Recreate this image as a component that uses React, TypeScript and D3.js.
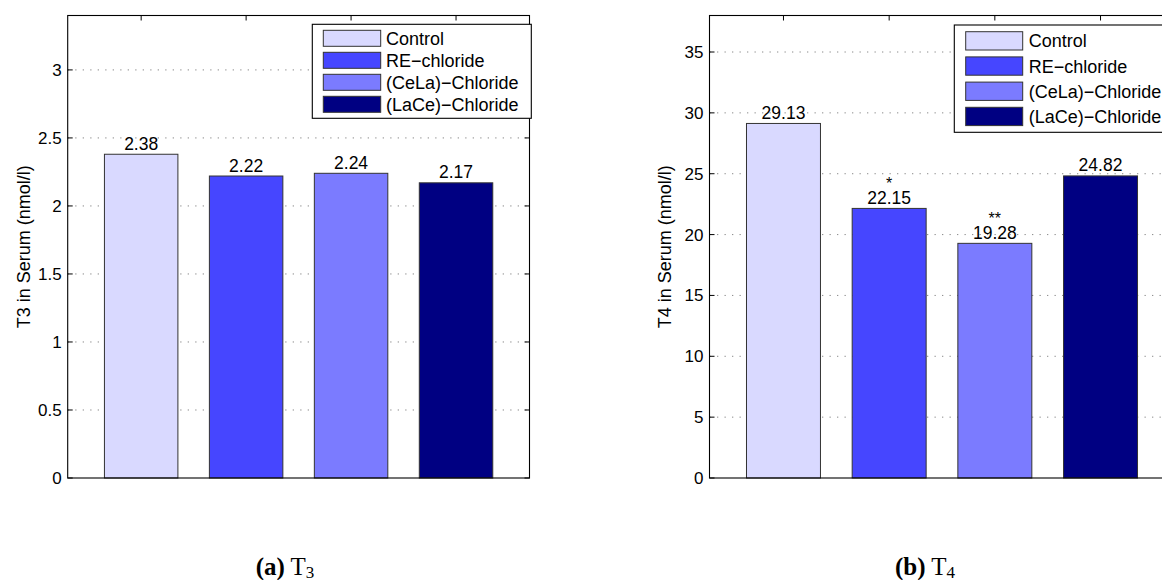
import React from "react";
import * as d3 from "d3";

const categories = ["Control", "RE\u2212chloride", "(CeLa)\u2212Chloride", "(LaCe)\u2212Chloride"];
const barColors = ["#d9d9ff", "#4646ff", "#7b7bff", "#000082"];
const t3Values = [2.38, 2.22, 2.24, 2.17];
const t4Values = [29.13, 22.15, 19.28, 24.82];
const t3Marks = ["", "", "", ""];
const t4Marks = ["", "*", "**", ""];
const t3Ticks = [0, 0.5, 1, 1.5, 2, 2.5, 3];
const t4Ticks = [0, 5, 10, 15, 20, 25, 30, 35];
const t3Label = "T3 in Serum (nmol/l)";
const t4Label = "T4 in Serum (nmol/l)";

const SANS = "'Liberation Sans', Arial, Helvetica, sans-serif";
const SERIF = "'Liberation Serif', 'Times New Roman', serif";

type LegendSpec = {
  x: number; y: number; w: number; h: number;
  sx: number; sw: number; sh: number; row0: number; rowStep: number; tx: number;
};

type PanelProps = {
  left: number; right: number; top: number; bottom: number;
  ymax: number; values: number[]; marks: string[]; ticks: number[];
  ylabel: string; ylabelX: number; legend: LegendSpec;
};

function Panel(p: PanelProps) {
  const x = d3.scaleLinear().domain([0.3, 4.7]).range([p.left, p.right]);
  const y = d3.scaleLinear().domain([0, p.ymax]).range([p.bottom, p.top]);
  const bw = x(1.35) - x(1);
  const tickFs = 17;
  const valFs = 17.5;
  const legFs = 18;
  const labFs = 18;
  const idx = d3.range(p.values.length);
  const L = p.legend;
  return (
    <g>
      {p.ticks.filter((t) => t > 0).map((t) => (
        <line key={"g" + t} x1={p.left} x2={p.right} y1={y(t)} y2={y(t)}
          stroke="#8a8a8a" strokeWidth={1} strokeDasharray="1.3,6.2" />
      ))}
      {idx.map((i) => (
        <line key={"bt" + i} x1={x(i + 1)} x2={x(i + 1)} y1={p.bottom} y2={p.bottom - 5} stroke="#000" />
      ))}
      {p.values.map((v, i) => (
        <rect key={"b" + i} x={x(i + 1) - bw} y={y(v)} width={bw * 2} height={y(0) - y(v)}
          fill={barColors[i]} stroke="#333" strokeWidth={1} />
      ))}
      {p.values.map((v, i) => (
        <text key={"v" + i} x={x(i + 1)} y={y(v) - 4.5} textAnchor="middle" fontSize={valFs} fontFamily={SANS} fill="#000">
          {v.toFixed(2)}
        </text>
      ))}
      {p.marks.map((m, i) => m ? (
        <text key={"m" + i} x={x(i + 1)} y={y(p.values[i]) - 19} textAnchor="middle" fontSize={16} fontFamily={SANS} fill="#000">
          {m}
        </text>
      ) : null)}
      <rect x={p.left} y={p.top} width={p.right - p.left} height={p.bottom - p.top} fill="none" stroke="#000" strokeWidth={1.1} />
      {idx.map((i) => (
        <line key={"tt" + i} x1={x(i + 1)} x2={x(i + 1)} y1={p.top} y2={p.top + 5} stroke="#000" />
      ))}
      {p.ticks.map((t) => (
        <g key={"yt" + t}>
          <line x1={p.left} x2={p.left + 5} y1={y(t)} y2={y(t)} stroke="#000" />
          <line x1={p.right} x2={p.right - 5} y1={y(t)} y2={y(t)} stroke="#000" />
          <text x={p.left - 6} y={y(t) + 6} textAnchor="end" fontSize={tickFs} fontFamily={SANS} fill="#000">
            {String(t)}
          </text>
        </g>
      ))}
      <text transform={`translate(${p.ylabelX},${(p.top + p.bottom) / 2}) rotate(-90)`} textAnchor="middle"
        fontSize={labFs} fontFamily={SANS} fill="#000">
        {p.ylabel}
      </text>
      <rect x={L.x} y={L.y} width={L.w} height={L.h} fill="#fff" stroke="#000" strokeWidth={1.1} />
      {categories.map((c, i) => {
        const ry = L.y + L.row0 + i * L.rowStep;
        return (
          <g key={"l" + i}>
            <rect x={L.x + L.sx} y={ry} width={L.sw} height={L.sh} fill={barColors[i]} stroke="#333" strokeWidth={1} />
            <text x={L.x + L.tx} y={ry + L.sh / 2 + 6.5} fontSize={legFs} fontFamily={SANS} fill="#000">{c}</text>
          </g>
        );
      })}
    </g>
  );
}

export default function App() {
  return (
    <svg width={1162} height={580} style={{ position: "absolute", left: 0, top: 0, background: "#fff" }}>
      <rect x={0} y={0} width={1162} height={580} fill="#fff" />
      <Panel left={67.7} right={529.5} top={15.5} bottom={478} ymax={3.4} values={t3Values} marks={t3Marks}
        ticks={t3Ticks} ylabel={t3Label} ylabelX={30}
        legend={{ x: 312.3, y: 24.3, w: 219, h: 94, sx: 11, sw: 57.4, sh: 16, row0: 6, rowStep: 22, tx: 73.7 }} />
      <Panel left={709.5} right={1174.5} top={15.5} bottom={478} ymax={38} values={t4Values} marks={t4Marks}
        ticks={t4Ticks} ylabel={t4Label} ylabelX={670.5}
        legend={{ x: 954.3, y: 25, w: 240, h: 107.3, sx: 11.4, sw: 57, sh: 18.3, row0: 6.7, rowStep: 25.2, tx: 74.4 }} />
      <text x={285} y={575} textAnchor="middle" fontFamily={SERIF} fontSize={25} fill="#000">
        <tspan fontWeight="bold">(a)</tspan> T<tspan fontSize={17} dy={2.5}>3</tspan>
      </text>
      <text x={925} y={575} textAnchor="middle" fontFamily={SERIF} fontSize={25} fill="#000">
        <tspan fontWeight="bold">(b)</tspan> T<tspan fontSize={17} dy={2.5}>4</tspan>
      </text>
    </svg>
  );
}
